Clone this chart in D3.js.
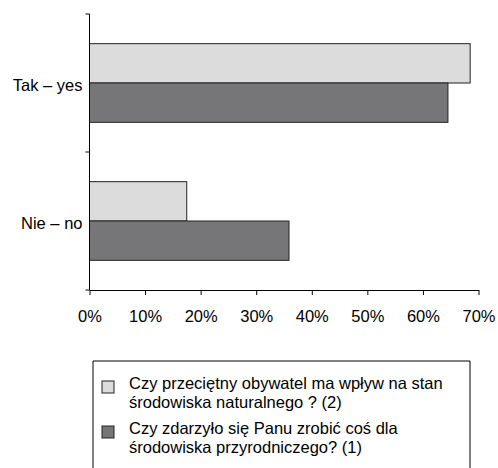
<!DOCTYPE html>
<html>
<head>
<meta charset="utf-8">
<script src="https://cdn.jsdelivr.net/npm/d3@7"></script>
<style>
  body { margin: 0; background: #fff; }
  svg { display: block; font-family: "Liberation Sans", Arial, sans-serif; }
</style>
</head>
<body>
<svg id="chart"></svg>
<script>
const categories = ["Tak – yes", "Nie – no"];
const seriesNames = [
    ["Czy przeciętny obywatel ma wpływ na stan", "środowiska naturalnego ? (2)"],
    ["Czy zdarzyło się Panu zrobić coś dla", "środowiska przyrodniczego? (1)"]
];
const series2 = [68.5, 17.5];   // light bars
const series1 = [64.5, 35.9];   // dark bars
const xTicks = [0, 10, 20, 30, 40, 50, 60, 70];
const colors = ["#dcdcdd", "#767678"];

const width = 498, height = 468;
const margin = { top: 14, right: 20, bottom: 178, left: 89.5 };
const innerW = 478.5 - margin.left;
const innerH = 290 - margin.top;

const svg = d3.select("#chart").attr("width", width).attr("height", height);
const g = svg.append("g").attr("transform", `translate(${margin.left},${margin.top})`);

const x = d3.scaleLinear().domain([0, 70]).range([0, innerW]);
const y = d3.scaleBand().domain(categories).range([0, innerH]).paddingInner(0.43).paddingOuter(0.215);
const yInner = d3.scaleBand().domain([0, 1]).range([0, y.bandwidth()]);

const rows = categories.map((c, i) => ({ cat: c, vals: [series2[i], series1[i]] }));

// bars
const groups = g.selectAll("g.cat").data(rows).join("g")
    .attr("class", "cat")
    .attr("transform", d => `translate(0,${y(d.cat)})`);
groups.selectAll("rect").data(d => d.vals).join("rect")
    .attr("x", 0)
    .attr("y", (d, j) => yInner(j))
    .attr("width", d => x(d))
    .attr("height", yInner.bandwidth())
    .attr("fill", (d, j) => colors[j])
    .attr("stroke", "#222")
    .attr("stroke-width", 1);

// y axis line + ticks at band edges
g.append("line").attr("x1", 0).attr("x2", 0).attr("y1", 0).attr("y2", innerH)
    .attr("stroke", "#000").attr("stroke-width", 1);
const boundaries = [0, innerH / 2, innerH];
g.selectAll("line.ytick").data(boundaries).join("line")
    .attr("class", "ytick")
    .attr("x1", -4).attr("x2", 0)
    .attr("y1", d => d).attr("y2", d => d)
    .attr("stroke", "#000");

// category labels
g.selectAll("text.cat").data(categories).join("text")
    .attr("class", "cat")
    .attr("x", -7)
    .attr("y", d => y(d) + y.bandwidth() / 2 + 2)
    .attr("dy", "0.35em")
    .attr("text-anchor", "end")
    .attr("font-size", 16.5)
    .attr("fill", "#000")
    .text(d => d);

// x axis
const xAxis = g.append("g")
    .attr("transform", `translate(0,${innerH})`)
    .call(d3.axisBottom(x).tickValues(xTicks).tickFormat(d => d + "%").tickSize(5).tickSizeOuter(0));
xAxis.select(".domain").attr("stroke", "#000");
xAxis.selectAll(".tick line").attr("stroke", "#000");
xAxis.selectAll(".tick text")
    .attr("y", 20)
    .attr("font-size", 16.5)
    .attr("fill", "#000")
    .attr("font-family", "Liberation Sans, Arial, sans-serif");

// legend
const legend = svg.append("g").attr("transform", "translate(93,361)");
legend.append("path")
    .attr("d", "M0,110 V0 H377 V110")
    .attr("fill", "none")
    .attr("stroke", "#000");
const items = legend.selectAll("g.item").data(seriesNames).join("g")
    .attr("class", "item")
    .attr("transform", (d, i) => `translate(0,${i * 45})`);
items.append("rect")
    .attr("x", 9).attr("y", 20)
    .attr("width", 12).attr("height", 12)
    .attr("fill", (d, i) => colors[i])
    .attr("stroke", "#222");
items.each(function (d) {
    const t = d3.select(this).append("text")
        .attr("font-size", 16.5)
        .attr("fill", "#000");
    d.forEach((line, k) => {
        t.append("tspan").attr("x", 36).attr("y", 22 + k * 19).attr("dy", "0.35em").text(line);
    });
});
</script>
</body>
</html>
